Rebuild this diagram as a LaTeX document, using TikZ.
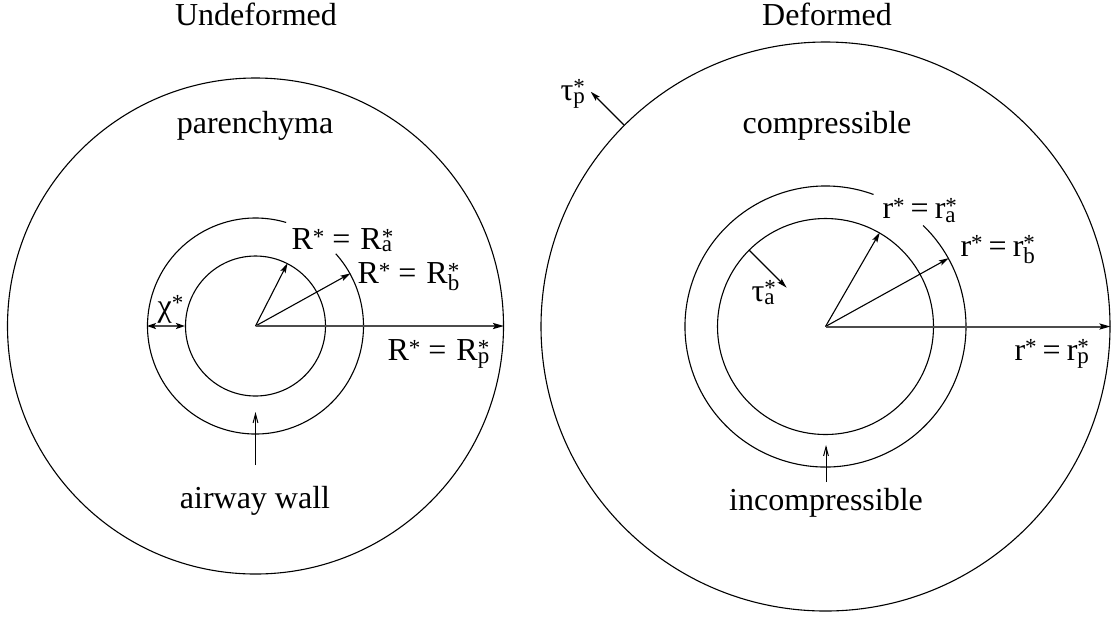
\documentclass[tikz,border=0pt]{standalone}
\usepackage{fontspec}
\setmainfont{Liberation Serif}
\usetikzlibrary{arrows.meta}
\newcommand{\smallstar}{\raisebox{2.6pt}{\fontsize{11.5}{11.5}\selectfont *}}
\newcommand{\supsub}[2][1.5pt]{\rlap{\smallstar}\raisebox{-#1}{\fontsize{11.5}{11.5}\selectfont #2}}
\begin{document}
\begin{tikzpicture}[x=0.5pt,y=-0.5pt, line width=0.55pt,
  lbl/.style={font=\fontsize{16}{19}\selectfont, inner sep=0pt},
  ring/.style={circle, draw, inner sep=0pt, line width=0.55pt},
  hidden/.style={circle, inner sep=0pt},
  rad/.style={-{Stealth[length=5pt,width=2.8pt,inset=1pt]}},
  axis/.style={draw=black!70, line width=1pt, -{Stealth[length=5.5pt,width=3pt,inset=1pt,black]}},
  dim/.style={draw=black!70, line width=1pt, {Stealth[length=4.5pt,width=3pt,inset=1pt,black]}-{Stealth[length=4.5pt,width=3pt,inset=1pt,black]}},
  ptr/.style={-{Straight Barb[length=4.5pt,width=2.4pt]}, line width=0.5pt}]
\useasboundingbox (0,0) rectangle (1117,617);

% ---------- Undeformed ----------
\coordinate (L) at (255.5,326);
\node[ring, minimum size=248pt] (Lout) at (L) {};
\node[ring, minimum size=70pt] (Lin) at (L) {};
\node[hidden, minimum size=108pt] (Lmid) at (L) {};
\draw ([shift={(73.5:54pt)}]L) arc[start angle=73.5, end angle=402, radius=54pt];

\node[lbl, anchor=base] (tU) at (256,25.5) {Undeformed};
\node[lbl, anchor=base] (par) at (255,133.5) {parenchyma};
\node[lbl, anchor=base] (aw) at (255,508.5) {airway wall};

\draw[rad] (L) -- (Lin.63);
\draw[rad] (L) -- (Lmid.29);
\draw[axis] (L) -- (Lout.0);
\draw[dim] (Lmid.180) -- (Lin.180);
\node[lbl, anchor=base west] (chi) at (157,316) {χ\smallstar};

\coordinate (aw1) at (255.5,465);
\coordinate (aw2) at (255.5,412);
\draw[ptr] (aw1) -- (aw2);

\node[lbl, anchor=base west] (Ra) at (291,249.5) {R\smallstar\hspace{4pt}=\hspace{5pt}R\supsub[1pt]{a}};
\node[lbl, anchor=base west] (Rb) at (357,283.5) {R\smallstar\hspace{4pt}=\hspace{5pt}R\supsub[3.4pt]{b}};
\node[lbl, anchor=base west] (Rp) at (387,360.5) {R\smallstar\hspace{4pt}=\hspace{5pt}R\supsub{p}};

% ---------- Deformed ----------
\coordinate (C) at (825.5,326.5);
\node[ring, minimum size=284.5pt] (Cout) at (C) {};
\node[ring, minimum size=108pt] (Cin) at (C) {};
\node[hidden, minimum size=140.5pt] (Cmid) at (C) {};
\draw ([shift={(70:70.25pt)}]C) arc[start angle=70, end angle=406, radius=70.25pt];

\node[lbl, anchor=base] (tD) at (827,25.5) {Deformed};
\node[lbl, anchor=base] (comp) at (827,133) {compressible};
\node[lbl, anchor=base] (inc) at (826,510) {incompressible};

\draw[rad] (C) -- (Cin.60);
\draw[rad] (C) -- (Cmid.29);
\draw[axis] (C) -- (Cout.0);

\coordinate (taT) at ([shift={(135:27.5pt)}]C);
\draw[rad] (Cin.135) -- (taT);
\node[lbl, anchor=base west] (ta) at (751,301) {τ\supsub{a}};

\coordinate (tpT) at ([shift={(135:166pt)}]C);
\draw[rad] (Cout.135) -- (tpT);
\node[lbl, anchor=base west] (tp) at (560,100) {τ\supsub{p}};

\coordinate (in1) at (826,482);
\coordinate (in2) at (826,445);
\draw[ptr] (in1) -- (in2);

\node[lbl, anchor=base west] (ra) at (882,218.5) {r\smallstar\hspace{3pt}=\hspace{3pt}r\supsub[2pt]{a}};
\node[lbl, anchor=base west] (rb) at (960,256) {r\smallstar\hspace{3pt}=\hspace{3pt}r\supsub[3.8pt]{b}};
\node[lbl, anchor=base west] (rp) at (1014,360) {r\smallstar\hspace{3pt}=\hspace{3pt}r\supsub{p}};
\end{tikzpicture}
\end{document}
